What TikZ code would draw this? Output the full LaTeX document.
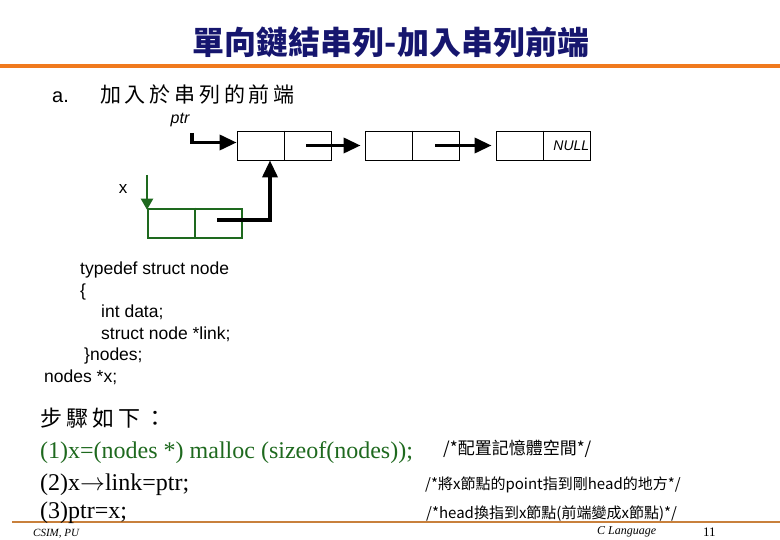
\documentclass[tikz,border=0pt]{standalone}
\usepackage{fontspec}
\setmainfont{Liberation Serif}
\setsansfont{Liberation Sans}
\newfontfamily\cjk{Noto Sans CJK TC}
\newfontfamily\cjkwide[LetterSpace=18]{Noto Sans CJK TC}
\usetikzlibrary{arrows.meta}
\definecolor{titleblue}{RGB}{22,22,110}
\definecolor{barorange}{RGB}{240,122,30}
\definecolor{footorange}{RGB}{200,128,60}
\definecolor{xgreen}{RGB}{30,105,30}
\tikzset{
  cell/.style={draw, line width=0.8pt, minimum width=94pt, minimum height=29pt, inner sep=0pt},
  link/.style={line width=3.5pt, -{Triangle[length=17pt,width=15pt]}},
  codeline/.style={anchor=base west, inner sep=0pt, font=\sffamily\fontsize{17.5}{20}\selectfont},
  stepline/.style={anchor=base west, inner sep=0pt, font=\fontsize{24}{28}\selectfont},
  comment/.style={anchor=base west, inner sep=0pt, font=\cjk\fontsize{15}{18}\selectfont}
}
\begin{document}
\begin{tikzpicture}[x=1pt,y=-1pt]
  \useasboundingbox (0,0) rectangle (780,540);
  % title and bars
  \node[font=\cjk\bfseries\fontsize{32}{36}\selectfont, text=titleblue] (title) at (391,42) {單向鏈結串列-加入串列前端};
  \draw[barorange, line width=4pt] (0,66.5) -- (780,66.5);
  \draw[footorange, line width=2pt] (12,522) -- (780,522);

  \node[anchor=base west, inner sep=0pt, font=\sffamily\fontsize{20}{24}\selectfont] (item) at (52,103) {a.};
  \node[anchor=base west, inner sep=0pt, font=\cjkwide\fontsize{21}{24}\selectfont] (itemtext) at (100,103) {加入於串列的前端};

  % the list
  \node[cell] (n1) at (284,145.5) {};
  \node[cell] (n2) at (412,145.5) {};
  \node[cell] (n3) at (543,145.5) {};
  \node[cell, draw=xgreen, line width=2.5pt] (xbox) at (195,223.5) {};
  \foreach \n in {n1,n2,n3} \draw[line width=0.8pt] (\n.north) -- (\n.south);
  \draw[xgreen, line width=2.5pt] (xbox.north) -- (xbox.south);

  \node[font=\sffamily\itshape\fontsize{16}{18}\selectfont] (ptr) at (180,120) {ptr};
  \node[anchor=east, inner sep=1pt, font=\sffamily\itshape\fontsize{14}{16}\selectfont] (null) at (n3.east) {NULL};
  \node[font=\sffamily\fontsize{17}{19}\selectfont] (x) at (123,189) {x};

  \coordinate (ptrtop) at (192,133);
  \coordinate (xtop) at (147,175);
  \coordinate (xlink) at (217,220);
  \draw[link] (ptrtop) |- ([yshift=3pt]n1.west);
  \draw[link, shorten >=4pt] ([xshift=-25pt]n1.east) -- (n2.west);
  \draw[link, shorten >=4pt] ([xshift=-24pt]n2.east) -- (n3.west);
  \draw[link] (xlink) -| ([xshift=-14pt]n1.south);
  \draw[xgreen, line width=2pt, -{Triangle[length=11pt,width=12pt]}] (xtop) -- ([yshift=-2pt]xtop |- xbox.north);

  % declaration
  \node[codeline] (c1) at (80,275) {typedef struct node};
  \node[codeline] (c2) at (80,296.5) {\{};
  \node[codeline] (c3) at (101,318) {int data;};
  \node[codeline] (c4) at (101,339.5) {struct node *link;};
  \node[codeline] (c5) at (84,361) {\}nodes;};
  \node[codeline] (c6) at (44,382.5) {nodes *x;};

  % steps
  \node[anchor=base west, inner sep=0pt, font=\cjkwide\fontsize{22}{24}\selectfont] (steps) at (40,426) {步驟如下：};
  \node[stepline, text=xgreen] (s1) at (40,458) {(1)x=(nodes *) malloc (sizeof(nodes));};
  \node[stepline] (s2) at (40,490) {(2)x$\rightarrow$link=ptr;};
  \node[stepline] (s3) at (40,518) {(3)ptr=x;};
  \node[comment, font=\cjk\fontsize{17}{20}\selectfont] (m1) at (443,454) {/*配置記憶體空間*/};
  \node[comment] (m2) at (425,489) {/*將x節點的point指到剛head的地方*/};
  \node[comment] (m3) at (426,518) {/*head換指到x節點(前端變成x節點)*/};

  % footer
  \node[anchor=base west, inner sep=0pt, font=\itshape\fontsize{11}{13}\selectfont] (foot1) at (33,536) {CSIM, PU};
  \node[anchor=base west, inner sep=0pt, font=\itshape\fontsize{12}{14}\selectfont] (foot2) at (597,534) {C Language};
  \node[anchor=base west, inner sep=0pt, font=\fontsize{13}{15}\selectfont] (page) at (703,536.5) {11};
\end{tikzpicture}
\end{document}
